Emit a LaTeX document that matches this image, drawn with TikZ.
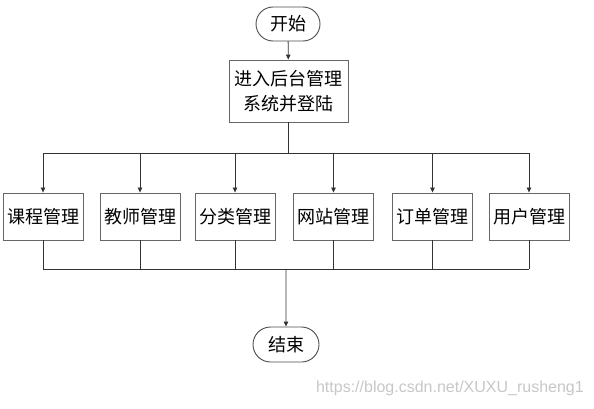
\documentclass[tikz,border=0pt]{standalone}
\usepackage{fontspec}
\newfontfamily\cjk{Noto Sans CJK SC}
\newfontfamily\wm{Liberation Sans}
\usetikzlibrary{arrows.meta,shapes.misc}
\begin{document}
\begin{tikzpicture}[x=1pt,y=-1pt,
  box/.style={draw=black!60,line width=0.9pt,fill=white,inner sep=0pt,font=\cjk\fontsize{18}{25}\selectfont},
  term/.style={draw=black!70,line width=0.9pt,rounded rectangle,inner sep=0pt,font=\cjk\fontsize{18}{22}\selectfont},
  conn/.style={line width=0.8pt,draw=black!80},
  arr/.style={conn,-{Triangle[length=5pt,width=4.5pt]}}]
\useasboundingbox (0,0) rectangle (594,409);
\node[term,minimum width=64pt,minimum height=34pt] (start) at (288,24) {开始};
\node[box,minimum width=119pt,minimum height=62pt,align=center] (login) at (288.5,91) {进入后台管理\\系统并登陆};
\node[box,minimum width=80pt,minimum height=47pt] (b1) at (43,216.5) {课程管理};
\node[box,minimum width=80pt,minimum height=47pt] (b2) at (140,216.5) {教师管理};
\node[box,minimum width=80pt,minimum height=47pt] (b3) at (235,216.5) {分类管理};
\node[box,minimum width=80pt,minimum height=47pt] (b4) at (333.5,216.5) {网站管理};
\node[box,minimum width=80pt,minimum height=47pt] (b5) at (432.5,216.5) {订单管理};
\node[box,minimum width=80pt,minimum height=47pt] (b6) at (529,216.5) {用户管理};
\node[term,minimum width=66pt,minimum height=35pt] (end) at (286,344.5) {结束};
\coordinate (top) at (288.5,153);
\coordinate (bot) at (286,269);
\node[font=\wm\fontsize{16}{19}\selectfont,text=black!22,anchor=east,inner sep=0pt] (url) at (584,388) {https://blog.csdn.net/XUXU\_rusheng1};
\draw[arr] (start) -- (login);
\draw[conn] (login.south) -- (top);
\draw[conn] (b1.north |- top) -- (b6.north |- top);
\foreach \b in {b1,b2,b3,b4,b5,b6}{
  \draw[arr] (\b.north |- top) -- (\b.north);
  \draw[conn] (\b.south) -- (\b.south |- bot);
}
\draw[conn] (b1.south |- bot) -- (b6.south |- bot);
\draw[arr] (bot) -- (end);
\end{tikzpicture}
\end{document}
